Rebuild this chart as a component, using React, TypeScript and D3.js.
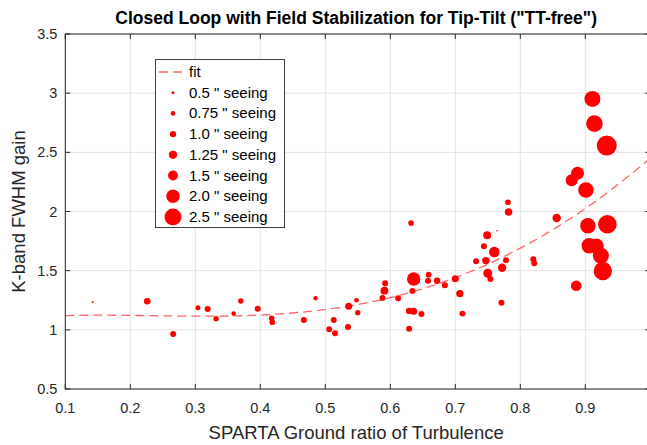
import React from "react";
import * as d3 from "d3";

const W = 647;
const H = 445;

const ratio = [
  0.142, 0.226, 0.266, 0.304, 0.319, 0.332, 0.359, 0.37, 0.396, 0.4175, 0.4185, 0.467,
  0.485, 0.506, 0.515, 0.513, 0.535, 0.536, 0.548, 0.55, 0.588, 0.591, 0.592, 0.612,
  0.629, 0.632, 0.636, 0.634, 0.629, 0.636, 0.648, 0.659, 0.658, 0.672, 0.684, 0.7,
  0.707, 0.711, 0.732, 0.744, 0.749, 0.747, 0.76, 0.75, 0.754, 0.772, 0.778, 0.771,
  0.782, 0.781, 0.82, 0.8215, 0.856, 0.888, 0.879, 0.901, 0.904, 0.934, 0.906, 0.917,
  0.924, 0.927, 0.886, 0.911, 0.914, 0.933, 0.764,
];
const gain = [
  1.235, 1.241, 0.965, 1.187, 1.176, 1.094, 1.137, 1.244, 1.179, 1.098, 1.064, 1.083,
  1.267, 1.005, 0.971, 1.083, 1.024, 1.199, 1.25, 1.145, 1.269, 1.331, 1.393, 1.267,
  1.01, 1.903, 1.43, 1.328, 1.16, 1.157, 1.134, 1.466, 1.415, 1.415, 1.377, 1.432,
  1.306, 1.137, 1.579, 1.706, 1.799, 1.585, 1.658, 1.478, 1.43, 1.525, 1.588, 1.229,
  1.996, 2.078, 1.596, 1.563, 1.945, 2.323, 2.264, 2.182, 1.88, 1.892, 1.711, 1.709,
  1.627, 1.497, 1.373, 2.951, 2.743, 2.557, 1.838,
];
const seeing = [
  0.37, 1.03, 0.94, 0.8, 0.94, 0.85, 0.75, 0.85, 0.94, 0.85, 0.9, 0.94,
  0.7, 0.94, 0.94, 0.94, 0.94, 1.09, 0.75, 0.85, 0.94, 1.2, 0.94, 0.94,
  0.94, 0.9, 2.0, 0.94, 1.0, 1.1, 0.94, 0.9, 0.94, 1.0, 0.94, 1.09,
  1.14, 0.94, 0.94, 0.94, 1.23, 1.14, 1.6, 1.37, 0.94, 1.28, 0.94, 0.94,
  1.15, 0.9, 0.94, 0.94, 1.3, 1.94, 1.8, 2.3, 2.28, 2.74, 2.28, 2.2,
  2.37, 2.7, 1.6, 2.37, 2.46, 2.94, 0.3,
];

const legendSeeing = [0.5, 0.75, 1.0, 1.25, 1.5, 2.0, 2.5];
const legendLabels = [
  '0.5 " seeing',
  '0.75 " seeing',
  '1.0 " seeing',
  '1.25 " seeing',
  '1.5 " seeing',
  '2.0 " seeing',
  '2.5 " seeing',
];

const xTicks = [0.1, 0.2, 0.3, 0.4, 0.5, 0.6, 0.7, 0.8, 0.9];
const xTickLabels = ["0.1", "0.2", "0.3", "0.4", "0.5", "0.6", "0.7", "0.8", "0.9"];
const yTicks = [0.5, 1, 1.5, 2, 2.5, 3, 3.5];
const yTickLabels = ["0.5", "1", "1.5", "2", "2.5", "3", "3.5"];

// fit curve (Newton-form polynomial)
const fitNodes = [0.1, 0.4, 0.6, 0.8];
const fitCoefs = [1.12, 0.01667, 1.4367, 2.787, -1.407];

const titleText = 'Closed Loop with Field Stabilization for Tip-Tilt ("TT-free")';
const xLabel = "SPARTA Ground ratio of Turbulence";
const yLabel = "K-band FWHM gain";

function fitEval(x: number) {
  let y = 0;
  let prod = 1;
  for (let i = 0; i < fitCoefs.length; i++) {
    y += fitCoefs[i] * prod;
    if (i < fitNodes.length) prod *= x - fitNodes[i];
  }
  return y;
}

const radius = (s: number) => Math.max(0.7, 3.5 * s - 0.3);

export default function App() {
  const x = d3.scaleLinear().domain([0.1, 1.0]).range([65.3, 650.3]);
  const y = d3.scaleLinear().domain([0.5, 3.5]).range([389, 34]);
  const [x0, x1] = x.range();
  const [yb, yt] = y.range();
  const axisColor = "#262626";
  const gridColor = "#e3e3e3";
  const font = "Arial, 'Liberation Sans', Helvetica, sans-serif";
  const tl = 5;

  const fitXs = d3.range(0.1, 1.0001, 0.005);
  const fitLine = d3
    .line<number>()
    .x((d) => x(d))
    .y((d) => y(fitEval(d)));

  const pts = ratio.map((r, i) => ({ r, g: gain[i], s: seeing[i] }));

  const lgX = 155.5;
  const lgY = 59.5;
  const lgW = 129;
  const lgH = 168;
  const rowY = (i: number) => 72 + i * 20.7;

  return (
    <svg
      width={W}
      height={H}
      style={{ position: "absolute", left: 0, top: 0, background: "#fff" }}
      fontFamily={font}
    >
      <rect x={0} y={0} width={W} height={H} fill="#fff" />
      {/* grid */}
      {xTicks.map((t) => (
        <line key={"gx" + t} x1={x(t)} x2={x(t)} y1={yb} y2={yt} stroke={gridColor} strokeWidth={1} />
      ))}
      {yTicks.map((t) => (
        <line key={"gy" + t} x1={x0} x2={x1} y1={y(t)} y2={y(t)} stroke={gridColor} strokeWidth={1} />
      ))}
      {/* fit */}
      <path
        d={fitLine(fitXs) || ""}
        fill="none"
        stroke="#ff0000"
        strokeOpacity={0.6}
        strokeWidth={1.3}
        strokeDasharray="9,5"
      />
      {/* points */}
      {pts.map((p, i) => (
        <circle key={i} cx={x(p.r)} cy={y(p.g)} r={radius(p.s)} fill="#ff0000" />
      ))}
      {/* axes box */}
      <g stroke={axisColor} strokeWidth={1} fill="none">
        <line x1={x0} x2={x0} y1={yb + 0.5} y2={yt - 0.5} />
        <line x1={x0} x2={x1} y1={yb} y2={yb} />
        <line x1={x0} x2={x1} y1={yt} y2={yt} />
        <line x1={x1} x2={x1} y1={yb} y2={yt} />
        {xTicks.map((t) => (
          <g key={"tx" + t}>
            <line x1={x(t)} x2={x(t)} y1={yb} y2={yb - tl} />
            <line x1={x(t)} x2={x(t)} y1={yt} y2={yt + tl} />
          </g>
        ))}
        {yTicks.map((t) => (
          <g key={"ty" + t}>
            <line x1={x0} x2={x0 + tl} y1={y(t)} y2={y(t)} />
            <line x1={x1} x2={x1 - tl} y1={y(t)} y2={y(t)} />
          </g>
        ))}
      </g>
      {/* tick labels */}
      {xTicks.map((t, i) => (
        <text key={"lx" + t} x={x(t)} y={yb + 24} textAnchor="middle" fontSize={14.5} fill={axisColor}>
          {xTickLabels[i]}
        </text>
      ))}
      {yTicks.map((t, i) => (
        <text key={"ly" + t} x={x0 - 8} y={y(t) + 5} textAnchor="end" fontSize={14.5} fill={axisColor}>
          {yTickLabels[i]}
        </text>
      ))}
      {/* labels */}
      <text x={(x0 + 647) / 2} y={439} textAnchor="middle" fontSize={18.5} fill={axisColor}>
        {xLabel}
      </text>
      <text
        transform={`translate(25, ${(yb + yt) / 2}) rotate(-90)`}
        textAnchor="middle"
        fontSize={18.5}
        fill={axisColor}
      >
        {yLabel}
      </text>
      <text x={(x0 + 647) / 2} y={24} textAnchor="middle" fontSize={17.5} fontWeight="bold" fill="#000">
        {titleText}
      </text>
      {/* legend */}
      <rect x={lgX} y={lgY} width={lgW} height={lgH} fill="#fff" stroke="#404040" strokeWidth={1} />
      <line
        x1={159}
        x2={184}
        y1={rowY(0)}
        y2={rowY(0)}
        stroke="#ff0000"
        strokeOpacity={0.6}
        strokeWidth={1.3}
        strokeDasharray="9,5"
      />
      <text x={189} y={rowY(0) + 5} fontSize={15} fill="#000">
        fit
      </text>
      {legendSeeing.map((s, i) => (
        <g key={"lg" + i}>
          <circle cx={173} cy={rowY(i + 1)} r={radius(s)} fill="#ff0000" />
          <text x={189} y={rowY(i + 1) + 5} fontSize={15} fill="#000">
            {legendLabels[i]}
          </text>
        </g>
      ))}
    </svg>
  );
}
